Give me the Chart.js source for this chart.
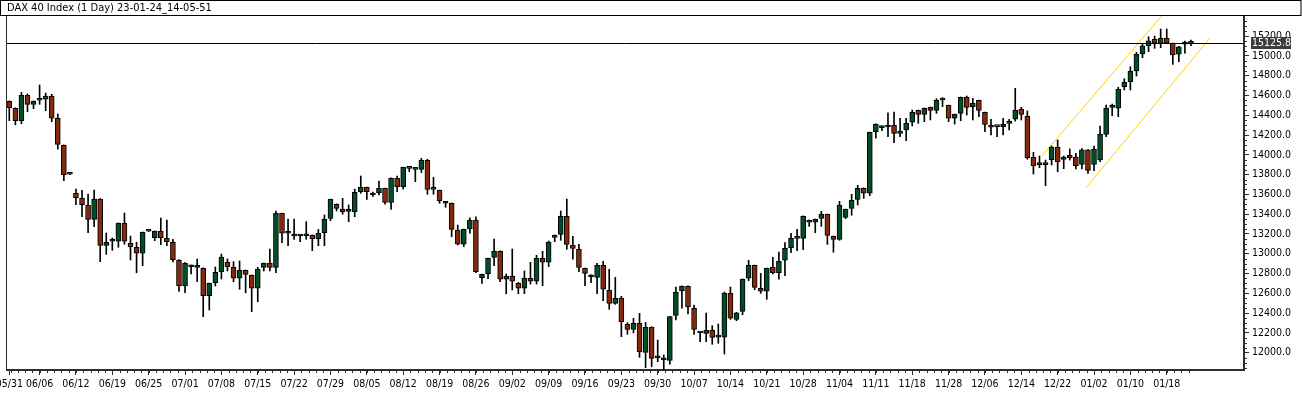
<!DOCTYPE html>
<html>
<head>
<meta charset="utf-8">
<title>DAX 40 Index (1 Day)</title>
<script src="https://cdn.jsdelivr.net/npm/chart.js@4.4.1/dist/chart.umd.min.js"></script>
<style>
  html, body { margin: 0; padding: 0; background: #fff; }
  canvas { display: block; }
</style>
</head>
<body>
<canvas id="chart" width="1302" height="411"></canvas>
<script>
// 데이터 ///////////////////////////////////////////////////////////
// daily OHLC, 2022-05-31 .. 2023-01-24
const opens = [
  14541,14470,14345,14601,14510,14551,14561,14594,14369,14096,13803,13611,13560,13490,13348,13553,13085,13126,13126,13308,
  13106,13065,13005,13227,13162,13227,13156,13116,12937,12677,12869,12863,12853,12576,12707,12818,12914,12863,12752,12833,
  12782,12651,12863,12904,12863,13409,13207,13192,13179,13182,13186,13152,13213,13358,13500,13449,13429,13425,13627,13671,
  13594,13617,13661,13520,13762,13678,13863,13853,13853,13944,13651,13641,13510,13510,13240,13098,13250,13341,12758,12798,
  12964,13025,12742,12775,12701,12651,12752,12722,12954,12914,13166,13196,13378,13085,13045,12853,12768,12762,12883,12631,
  12499,12550,12287,12236,12297,12004,12257,11949,11929,11923,12378,12624,12671,12449,12199,12196,12226,12158,12158,12600,
  12337,12418,12752,12883,12651,12621,12863,12809,12934,13061,13156,13156,13338,13318,13358,13399,13176,13146,13368,13459,
  13550,13661,13611,14233,14274,14281,14298,14217,14251,14331,14449,14409,14480,14449,14554,14500,14369,14419,14581,14486,
  14551,14429,14298,14284,14284,14318,14359,14460,14389,13975,13900,13900,13950,14076,13954,13995,13978,13904,14049,13904,
  13947,14207,14480,14470,14688,14739,14847,15019,15102,15167,15127,15177,15127,15016,15117,15126
];
const highs = [
  14545,14475,14632,14614,14545,14705,14624,14611,14412,14100,13805,13654,13641,13604,13644,13558,13210,13159,13312,13412,
  13179,13116,13220,13230,13232,13361,13341,13146,12940,12910,12886,12947,12858,12705,12866,12997,12947,12920,12927,12836,
  12786,12863,12907,13048,13432,13412,13351,13351,13189,13324,13190,13247,13392,13553,13505,13560,13493,13654,13786,13675,
  13624,13735,13664,13766,13786,13876,13866,13856,13964,13954,13773,13644,13520,13513,13290,13250,13364,13374,12795,12957,
  13149,13030,12795,13048,12710,12826,12914,12984,13025,13129,13190,13432,13553,13176,13095,12856,12788,12904,12924,12843,
  12762,12570,12303,12348,12398,12307,12262,12128,11977,12368,12664,12676,12676,12482,12212,12401,12273,12290,12613,12664,
  12408,12746,12934,12886,12802,12856,12964,13018,13112,13206,13247,13382,13341,13351,13429,13402,13180,13530,13452,13601,
  13692,13666,14230,14314,14291,14425,14432,14369,14369,14453,14452,14473,14483,14567,14577,14503,14412,14584,14594,14571,
  14554,14432,14358,14287,14369,14358,14672,14480,14443,14025,13988,13947,14089,14150,13988,14059,14015,14062,14052,14089,
  14291,14503,14513,14682,14769,14890,15036,15127,15193,15200,15271,15271,15130,15095,15150,15160
];
const lows = [
  14345,14304,14314,14435,14466,14510,14446,14334,14058,13738,13800,13496,13374,13213,13273,12920,12994,13035,13065,13096,
  12937,12808,12879,13225,13132,13091,13081,12917,12620,12606,12795,12717,12364,12432,12674,12745,12826,12717,12641,12606,
  12414,12515,12826,12826,12808,13112,13081,13146,13122,13146,13031,13081,13081,13334,13432,13399,13324,13374,13611,13550,
  13580,13594,13500,13449,13627,13654,13829,13728,13819,13601,13601,13510,13470,13172,13088,13071,13207,12808,12701,12748,
  12879,12717,12596,12634,12596,12596,12694,12694,12677,12869,13122,13136,13045,12944,12818,12677,12707,12596,12525,12439,
  12489,12162,12186,12200,11953,11848,11858,11909,11828,11883,12331,12449,12391,12186,12111,12111,12085,12095,11987,12337,
  12324,12384,12728,12637,12600,12540,12795,12742,12778,13011,13031,13041,13277,13213,13277,13095,13015,13136,13354,13389,
  13493,13560,13587,14167,14243,14183,14122,14183,14142,14291,14318,14335,14352,14419,14486,14335,14311,14345,14402,14352,
  14385,14233,14200,14183,14200,14251,14341,14352,13955,13806,13870,13688,13897,13829,13860,13947,13857,13857,13813,13839,
  13930,14183,14395,14385,14655,14655,14796,14981,15042,15076,15082,15125,14914,14941,15026,15102
];
const closes = [
  14476,14345,14601,14510,14541,14551,14594,14369,14106,13799,13803,13566,13496,13348,13553,13085,13116,13126,13308,13126,
  13071,13005,13217,13227,13227,13162,13122,12940,12677,12904,12869,12863,12576,12701,12812,12964,12869,12752,12833,12792,
  12651,12843,12904,12863,13409,13207,13207,13179,13179,13182,13152,13207,13348,13550,13459,13425,13429,13621,13671,13627,
  13614,13661,13520,13762,13678,13873,13863,13853,13944,13651,13651,13536,13510,13247,13098,13247,13341,12818,12792,12954,
  13025,12742,12775,12722,12651,12752,12722,12954,12914,13116,13186,13378,13095,13055,12863,12802,12768,12883,12641,12499,
  12550,12313,12236,12297,12007,12257,11943,11949,11929,12364,12610,12671,12462,12236,12199,12226,12155,12158,12600,12348,
  12404,12742,12883,12661,12621,12853,12809,12924,13055,13156,13156,13378,13318,13348,13399,13186,13146,13493,13449,13540,
  13661,13611,14227,14311,14274,14298,14217,14240,14318,14429,14409,14470,14449,14551,14554,14369,14409,14581,14480,14520,
  14449,14308,14278,14284,14308,14341,14450,14409,13971,13890,13900,13920,14079,13930,13954,13971,13890,14049,13843,14059,
  14210,14473,14480,14662,14733,14847,15016,15100,15153,15127,15177,15127,15009,15092,15140,15125.8
];

// x-axis: candle index -> date label
const tickIndex = [0,5,11,17,23,29,35,41,47,53,59,65,71,77,83,89,95,101,107,113,119,125,131,137,143,149,155,161,167,173,179,185,191];
const tickLabels = ['05/31','06/06','06/12','06/19','06/25','07/01','07/08','07/15','07/22','07/29','08/05','08/12','08/19','08/26',
  '09/02','09/09','09/16','09/23','09/30','10/07','10/14','10/21','10/28','11/04','11/11','11/18','11/28','12/06','12/14','12/22',
  '01/02','01/10','01/18'];

// y-axis price labels
const priceTicks = [12000,12200,12400,12600,12800,13000,13200,13400,13600,13800,14000,14200,14400,14600,14800,15000,15200];

// yellow trend channel drawn on the chart (candle index, price)
const channelUpper = [{ x: 170.4, y: 13988 }, { x: 190.3, y: 15413 }];
const channelLower = [{ x: 177.7, y: 13668 }, { x: 198.1, y: 15177 }];

const titleText = 'DAX 40 Index (1 Day) 23-01-24_14-05-51';

// 스타일 /////////////////////////////////////////////////////////////
const UP = '#004d28';
const DOWN = '#84290b';
const AXIS = '#2e2e2e';
const FONT = '"DejaVu Sans Condensed", "DejaVu Sans", sans-serif';

const lastIdx = closes.length - 1;
const lastClose = closes[lastIdx];

const bodyColors = closes.map((c, i) => (c >= opens[i] ? UP : DOWN));

// ──────────────────────────────────────────────────────────────────────
// frame, title box, minor ticks, last-price line and tag
// ──────────────────────────────────────────────────────────────────────
const framePlugin = {
  id: 'frame',
  beforeDraw(chart) {
    const ctx = chart.ctx;
    ctx.save();
    ctx.fillStyle = '#fff';
    ctx.fillRect(0, 0, chart.width, chart.height);
    ctx.restore();
  },
  afterDatasetsDraw(chart) {
    const ctx = chart.ctx;
    const a = chart.chartArea;
    const py = Math.round(chart.scales.y.getPixelForValue(lastClose)) + 0.5;
    ctx.save();
    ctx.strokeStyle = '#000';
    ctx.lineWidth = 1;
    ctx.beginPath();
    ctx.moveTo(a.left, py);
    ctx.lineTo(a.right, py);
    ctx.stroke();
    ctx.restore();
  },
  afterDraw(chart) {
    const ctx = chart.ctx;
    const a = chart.chartArea;
    const xs = chart.scales.x;
    const ys = chart.scales.y;
    ctx.save();

    // title box
    ctx.fillStyle = '#fff';
    ctx.fillRect(0, 0, chart.width, 15);
    ctx.strokeStyle = '#000';
    ctx.lineWidth = 1;
    ctx.strokeRect(0.5, 0.5, chart.width - 1.5, 15);
    ctx.fillStyle = '#000';
    ctx.font = '11px ' + FONT;
    ctx.textBaseline = 'middle';
    ctx.textAlign = 'left';
    ctx.fillText(titleText, 7, 8.5);

    // left frame line
    ctx.strokeStyle = AXIS;
    ctx.beginPath();
    ctx.moveTo(a.left - 0.5, a.top);
    ctx.lineTo(a.left - 0.5, a.bottom);
    ctx.stroke();

    // minor ticks on x (5 per label step)
    ctx.beginPath();
    for (let v = tickIndex[1] - 1.2 * 4; v <= lastIdx + 0.5; v += 1.2) {
      const px = Math.round(xs.getPixelForValue(v)) + 0.5;
      ctx.moveTo(px, a.bottom);
      ctx.lineTo(px, a.bottom + 3);
    }
    // minor ticks on y (every 50)
    for (let v = 11850; v <= ys.max; v += 50) {
      if (v % 200 === 0) continue;
      const py = Math.round(ys.getPixelForValue(v)) + 0.5;
      ctx.moveTo(a.right, py);
      ctx.lineTo(a.right + 3, py);
    }
    ctx.stroke();

    // last price tag
    const py = ys.getPixelForValue(lastClose);
    ctx.fillStyle = '#3d3d3d';
    ctx.fillRect(a.right + 7, Math.round(py) - 6, 40, 12);
    ctx.fillStyle = '#fff';
    ctx.font = '10.5px ' + FONT;
    ctx.textBaseline = 'middle';
    ctx.fillText(lastClose.toFixed(1), a.right + 8, Math.round(py) + 0.5);
    ctx.restore();
  }
};

// 차트 /////////////////////////////////////////////////////////////////
const chart = new Chart(document.getElementById('chart'), {
  type: 'bar',
  data: {
    datasets: [
      {
        // candle bodies
        data: opens.map((o, i) => ({ x: i, y: [o, closes[i]] })),
        backgroundColor: bodyColors,
        borderColor: '#000',
        borderWidth: 1,
        borderSkipped: false,
        barThickness: 5,
        minBarLength: 2,
        grouped: false,
        order: 1
      },
      {
        // wicks
        data: lows.map((l, i) => ({ x: i, y: [l, highs[i]] })),
        backgroundColor: '#000',
        borderWidth: 0,
        barThickness: 1,
        grouped: false,
        order: 2
      },
      {
        type: 'line',
        data: channelUpper,
        borderColor: '#ffd200',
        borderWidth: 1,
        pointRadius: 0,
        order: 3
      },
      {
        type: 'line',
        data: channelLower,
        borderColor: '#ffd200',
        borderWidth: 1,
        pointRadius: 0,
        order: 3
      }
    ]
  },
  options: {
    responsive: false,
    animation: false,
    devicePixelRatio: 1,
    layout: { padding: { left: 7, top: 16, right: 0, bottom: 0 } },
    plugins: {
      legend: { display: false },
      tooltip: { enabled: false },
      title: { display: false }
    },
    scales: {
      x: {
        type: 'linear',
        min: -0.38,
        max: 203.75,
        offset: false,
        grid: { display: true, offset: false, drawOnChartArea: false, drawTicks: true, tickLength: 5, color: AXIS, tickColor: AXIS },
        border: { display: true, color: AXIS, width: 2 },
        ticks: {
          autoSkip: false,
          maxRotation: 0,
          padding: 3,
          color: '#000',
          font: { family: FONT, size: 10.5 },
          callback: (v, i) => tickLabels[i]
        },
        afterBuildTicks: (scale) => {
          scale.ticks = tickIndex.map(v => ({ value: v }));
        },
        afterFit: (scale) => {
          scale.height = 41;
          scale.paddingLeft = 0;
          scale.paddingRight = 0;
        }
      },
      y: {
        type: 'linear',
        position: 'right',
        min: 11825.2,
        max: 15402.7,
        beginAtZero: false,
        grid: { display: true, drawOnChartArea: false, drawTicks: true, tickLength: 5, color: AXIS, tickColor: AXIS },
        border: { display: true, color: AXIS, width: 2 },
        ticks: {
          autoSkip: false,
          padding: 3,
          color: '#000',
          font: { family: FONT, size: 10.5 },
          callback: (v) => Number(v).toFixed(1)
        },
        afterBuildTicks: (scale) => {
          scale.ticks = priceTicks.map(v => ({ value: v }));
        },
        afterFit: (scale) => {
          scale.width = 58;
          scale.paddingTop = 0;
          scale.paddingBottom = 0;
        }
      }
    }
  },
  plugins: [framePlugin]
});
</script>
</body>
</html>
